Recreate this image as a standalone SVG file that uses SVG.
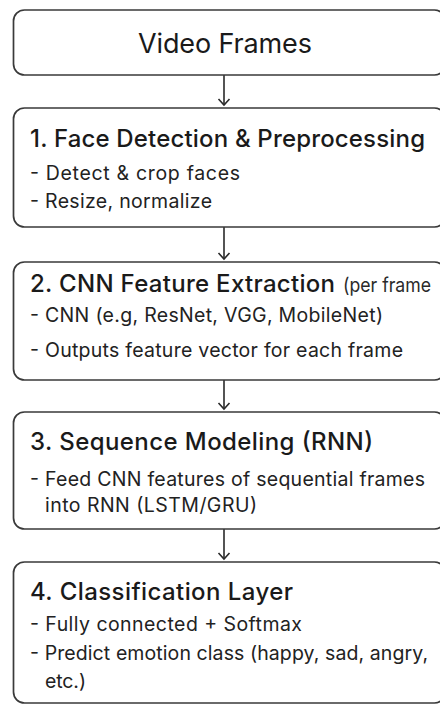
<svg xmlns="http://www.w3.org/2000/svg" width="440" height="707" viewBox="0 0 440 707">
  <defs>
    <style>
      .box { fill: #ffffff; stroke: #3a3a3a; stroke-width: 1.7; }
      .head { font-family: Inter, "Liberation Sans", sans-serif; font-size: 24px; font-weight: 500; fill: #1a1a1a; }
      .light { font-size: 20px; font-weight: 400; fill: #2a2a2a; }
      .plain { font-family: Inter, "Liberation Sans", sans-serif; font-size: 27px; font-weight: 400; fill: #1a1a1a; }
      .item { font-family: Inter, "Liberation Sans", sans-serif; font-size: 19.5px; font-weight: 400; fill: #222222; }
      .link { stroke: #2a2a2a; stroke-width: 1.6; fill: none; }
    </style>
  </defs>
  <rect width="440" height="707" fill="#ffffff"/>

  <!-- arrows between stages: shaft + open chevron head -->
  <g id="connectors">
    <line class="link" x1="224" y1="75" x2="224" y2="105"/>
    <path class="link" d="M218.5 99 L224 105 L229.5 99"/>
    <line class="link" x1="224" y1="227" x2="224" y2="259"/>
    <path class="link" d="M218.5 253 L224 259 L229.5 253"/>
    <line class="link" x1="224" y1="380" x2="224" y2="409"/>
    <path class="link" d="M218.5 403 L224 409 L229.5 403"/>
    <line class="link" x1="224" y1="529" x2="224" y2="559"/>
    <path class="link" d="M218.5 553 L224 559 L229.5 553"/>
  </g>

  <g id="video-frames">
    <rect class="box" x="13.5" y="10" width="432" height="65" rx="11"/>
    <text class="plain" x="225" y="53" text-anchor="middle" textLength="174">Video Frames</text>
  </g>

  <g id="face-detection">
    <rect class="box" x="13.5" y="108" width="432" height="119" rx="11"/>
    <text class="head" x="30" y="147" textLength="395">1. Face Detection &amp; Preprocessing</text>
    <text class="item" x="30" y="180" textLength="210">- Detect &amp; crop faces</text>
    <text class="item" x="30" y="208" textLength="182">- Resize, normalize</text>
  </g>

  <g id="cnn-features">
    <rect class="box" x="13.5" y="262" width="432" height="118" rx="11"/>
    <text class="head" x="30" y="292"><tspan textLength="305">2. CNN Feature Extraction</tspan><tspan class="light" x="343" textLength="88" lengthAdjust="spacingAndGlyphs">(per frame</tspan></text>
    <text class="item" x="30" y="322" textLength="353">- CNN (e.g, ResNet, VGG, MobileNet)</text>
    <text class="item" x="30" y="357" textLength="373">- Outputs feature vector for each frame</text>
  </g>

  <g id="sequence-model">
    <rect class="box" x="13.5" y="412" width="432" height="117" rx="11"/>
    <text class="head" x="30" y="450" textLength="343">3. Sequence Modeling (RNN)</text>
    <text class="item" x="30" y="486" textLength="395">- Feed CNN features of sequential frames</text>
    <text class="item" x="45" y="512" textLength="212">into RNN (LSTM/GRU)</text>
  </g>

  <g id="classification">
    <rect class="box" x="13.5" y="562" width="432" height="141" rx="11"/>
    <text class="head" x="30" y="600" textLength="263">4. Classification Layer</text>
    <text class="item" x="30" y="631" textLength="272">- Fully connected + Softmax</text>
    <text class="item" x="30" y="660" textLength="398">- Predict emotion class (happy, sad, angry,</text>
    <text class="item" x="45" y="688" textLength="41">etc.)</text>
  </g>
</svg>
